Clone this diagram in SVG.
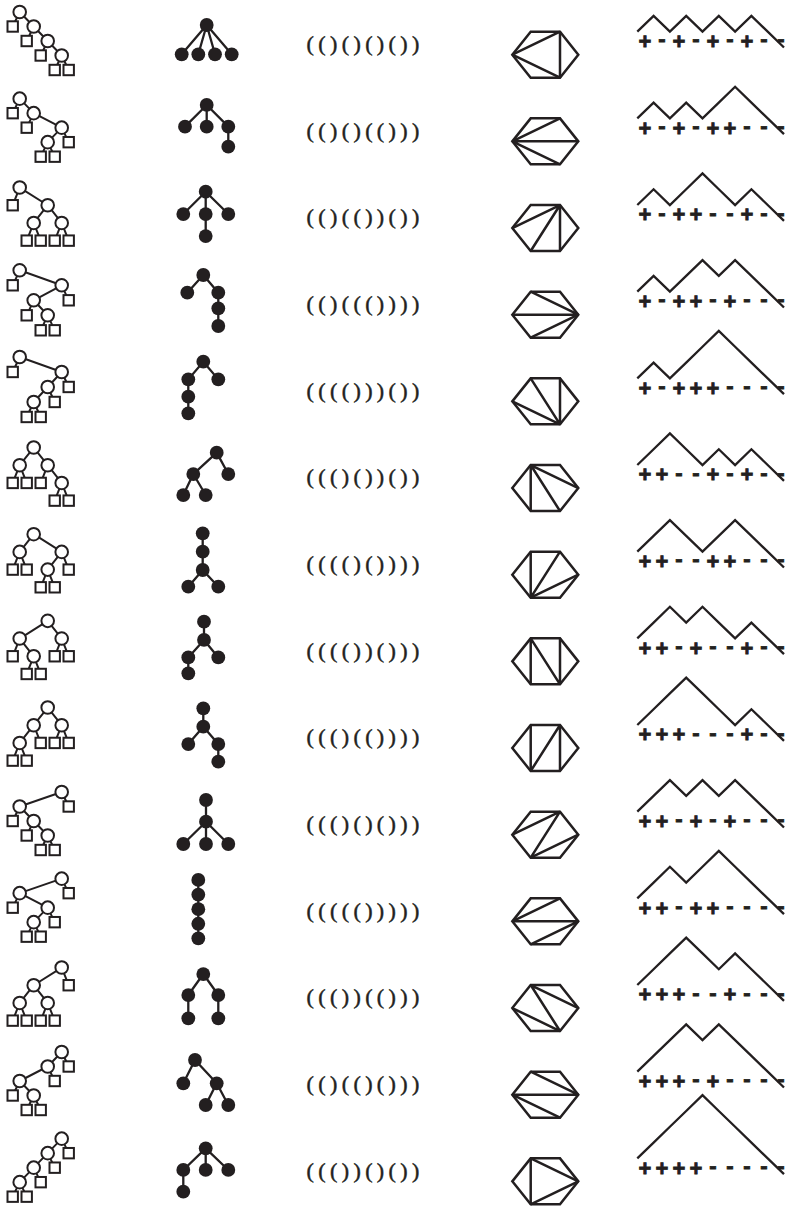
<svg xmlns="http://www.w3.org/2000/svg" xmlns:xlink="http://www.w3.org/1999/xlink" width="786" height="1209" viewBox="0 0 786 1209">
<style>
.e{fill:none;stroke:#231f20;stroke-width:2}
.pe{fill:none;stroke:#231f20;stroke-width:2.3}
.hx{fill:none;stroke:#231f20;stroke-width:2.5;stroke-linejoin:miter}
.dk{fill:none;stroke:#231f20;stroke-width:2.3}
.par{font-family:"Liberation Serif",serif;font-size:22px;letter-spacing:4.4px;fill:#231f20;stroke:#231f20;stroke-width:0.5}
.pl{font-family:"Liberation Sans",Arial,sans-serif;font-weight:bold;font-size:22px;fill:#231f20;stroke:#231f20;stroke-width:0.8;text-anchor:middle}
</style>
<defs>
<circle id="oc" r="6.3" fill="#fff" stroke="#231f20" stroke-width="2"/>
<rect id="sq" x="-5.2" y="-5.2" width="10.4" height="10.4" fill="#fff" stroke="#231f20" stroke-width="2"/>
<circle id="dot" r="6.9" fill="#231f20"/>
<polygon id="hex" points="512.3,54.7 530.7,31.7 560,31.7 578.3,54.7 560,77.7 530.7,77.7" class="hx"/>
</defs>
<rect width="786" height="1209" fill="#fff"/>

<!-- Binary trees -->
<g id="binary-trees">
<g id="bt1" transform="translate(0,0)">
<path class="e" d="M19.7 12L12.7 26.5M19.7 12L33.7 26.5M33.7 26.5L26.7 41M33.7 26.5L47.7 41M47.7 41L40.7 55.5M47.7 41L61.7 55.5M61.7 55.5L54.7 70M61.7 55.5L68.7 70"/>
<use href="#oc" x="19.7" y="12"/><use href="#oc" x="33.7" y="26.5"/><use href="#oc" x="47.7" y="41"/><use href="#oc" x="61.7" y="55.5"/>
<use href="#sq" x="12.7" y="26.5"/><use href="#sq" x="26.7" y="41"/><use href="#sq" x="40.7" y="55.5"/><use href="#sq" x="54.7" y="70"/><use href="#sq" x="68.7" y="70"/>
</g>
<g id="bt2" transform="translate(0,86.67)">
<path class="e" d="M19.7 12L12.7 26.5M19.7 12L33.7 26.5M33.7 26.5L26.7 41M33.7 26.5L61.7 41M61.7 41L47.7 55.5M61.7 41L68.7 55.5M47.7 55.5L40.7 70M47.7 55.5L54.7 70"/>
<use href="#oc" x="19.7" y="12"/><use href="#oc" x="33.7" y="26.5"/><use href="#oc" x="61.7" y="41"/><use href="#oc" x="47.7" y="55.5"/>
<use href="#sq" x="12.7" y="26.5"/><use href="#sq" x="26.7" y="41"/><use href="#sq" x="40.7" y="70"/><use href="#sq" x="54.7" y="70"/><use href="#sq" x="68.7" y="55.5"/>
</g>
<g id="bt3" transform="translate(0,173.33)">
<path class="e" d="M19.7 14.2L12.7 31.9M19.7 14.2L47.7 31.9M47.7 31.9L33.7 49.6M47.7 31.9L61.7 49.6M33.7 49.6L26.7 67.3M33.7 49.6L40.7 67.3M61.7 49.6L54.7 67.3M61.7 49.6L68.7 67.3"/>
<use href="#oc" x="19.7" y="14.2"/><use href="#oc" x="47.7" y="31.9"/><use href="#oc" x="33.7" y="49.6"/><use href="#oc" x="61.7" y="49.6"/>
<use href="#sq" x="12.7" y="31.9"/><use href="#sq" x="26.7" y="67.3"/><use href="#sq" x="40.7" y="67.3"/><use href="#sq" x="54.7" y="67.3"/><use href="#sq" x="68.7" y="67.3"/>
</g>
<g id="bt4" transform="translate(0,260)">
<path class="e" d="M19.7 10.3L12.7 25.3M19.7 10.3L61.7 25.3M61.7 25.3L33.7 40.3M61.7 25.3L68.7 40.3M33.7 40.3L26.7 55.3M33.7 40.3L47.7 55.3M47.7 55.3L40.7 70.3M47.7 55.3L54.7 70.3"/>
<use href="#oc" x="19.7" y="10.3"/><use href="#oc" x="61.7" y="25.3"/><use href="#oc" x="33.7" y="40.3"/><use href="#oc" x="47.7" y="55.3"/>
<use href="#sq" x="12.7" y="25.3"/><use href="#sq" x="68.7" y="40.3"/><use href="#sq" x="26.7" y="55.3"/><use href="#sq" x="40.7" y="70.3"/><use href="#sq" x="54.7" y="70.3"/>
</g>
<g id="bt5" transform="translate(0,346.67)">
<path class="e" d="M19.7 10.3L12.7 25.3M19.7 10.3L61.7 25.3M61.7 25.3L47.7 40.3M61.7 25.3L68.7 40.3M47.7 40.3L33.7 55.3M47.7 40.3L54.7 55.3M33.7 55.3L26.7 70.3M33.7 55.3L40.7 70.3"/>
<use href="#oc" x="19.7" y="10.3"/><use href="#oc" x="61.7" y="25.3"/><use href="#oc" x="47.7" y="40.3"/><use href="#oc" x="33.7" y="55.3"/>
<use href="#sq" x="12.7" y="25.3"/><use href="#sq" x="68.7" y="40.3"/><use href="#sq" x="54.7" y="55.3"/><use href="#sq" x="26.7" y="70.3"/><use href="#sq" x="40.7" y="70.3"/>
</g>
<g id="bt6" transform="translate(0,433.33)">
<path class="e" d="M33.7 14.2L19.7 31.9M33.7 14.2L47.7 31.9M19.7 31.9L12.7 49.6M19.7 31.9L26.7 49.6M47.7 31.9L40.7 49.6M47.7 31.9L61.7 49.6M61.7 49.6L54.7 67.3M61.7 49.6L68.7 67.3"/>
<use href="#oc" x="33.7" y="14.2"/><use href="#oc" x="19.7" y="31.9"/><use href="#oc" x="47.7" y="31.9"/><use href="#oc" x="61.7" y="49.6"/>
<use href="#sq" x="12.7" y="49.6"/><use href="#sq" x="26.7" y="49.6"/><use href="#sq" x="40.7" y="49.6"/><use href="#sq" x="54.7" y="67.3"/><use href="#sq" x="68.7" y="67.3"/>
</g>
<g id="bt7" transform="translate(0,520)">
<path class="e" d="M33.7 14.2L19.7 31.9M33.7 14.2L61.7 31.9M19.7 31.9L12.7 49.6M19.7 31.9L26.7 49.6M61.7 31.9L47.7 49.6M61.7 31.9L68.7 49.6M47.7 49.6L40.7 67.3M47.7 49.6L54.7 67.3"/>
<use href="#oc" x="33.7" y="14.2"/><use href="#oc" x="19.7" y="31.9"/><use href="#oc" x="61.7" y="31.9"/><use href="#oc" x="47.7" y="49.6"/>
<use href="#sq" x="12.7" y="49.6"/><use href="#sq" x="26.7" y="49.6"/><use href="#sq" x="68.7" y="49.6"/><use href="#sq" x="40.7" y="67.3"/><use href="#sq" x="54.7" y="67.3"/>
</g>
<g id="bt8" transform="translate(0,606.67)">
<path class="e" d="M47.7 14.2L19.7 31.9M47.7 14.2L61.7 31.9M19.7 31.9L12.7 49.6M19.7 31.9L33.7 49.6M33.7 49.6L26.7 67.3M33.7 49.6L40.7 67.3M61.7 31.9L54.7 49.6M61.7 31.9L68.7 49.6"/>
<use href="#oc" x="47.7" y="14.2"/><use href="#oc" x="19.7" y="31.9"/><use href="#oc" x="61.7" y="31.9"/><use href="#oc" x="33.7" y="49.6"/>
<use href="#sq" x="12.7" y="49.6"/><use href="#sq" x="54.7" y="49.6"/><use href="#sq" x="68.7" y="49.6"/><use href="#sq" x="26.7" y="67.3"/><use href="#sq" x="40.7" y="67.3"/>
</g>
<g id="bt9" transform="translate(0,693.33)">
<path class="e" d="M47.7 14.2L33.7 31.9M47.7 14.2L61.7 31.9M33.7 31.9L19.7 49.6M33.7 31.9L40.7 49.6M19.7 49.6L12.7 67.3M19.7 49.6L26.7 67.3M61.7 31.9L54.7 49.6M61.7 31.9L68.7 49.6"/>
<use href="#oc" x="47.7" y="14.2"/><use href="#oc" x="33.7" y="31.9"/><use href="#oc" x="61.7" y="31.9"/><use href="#oc" x="19.7" y="49.6"/>
<use href="#sq" x="40.7" y="49.6"/><use href="#sq" x="54.7" y="49.6"/><use href="#sq" x="68.7" y="49.6"/><use href="#sq" x="12.7" y="67.3"/><use href="#sq" x="26.7" y="67.3"/>
</g>
<g id="bt10" transform="translate(0,780)">
<path class="e" d="M61.7 12L68.7 26.5M61.7 12L19.7 26.5M19.7 26.5L12.7 41M19.7 26.5L33.7 41M33.7 41L26.7 55.5M33.7 41L47.7 55.5M47.7 55.5L40.7 70M47.7 55.5L54.7 70"/>
<use href="#oc" x="61.7" y="12"/><use href="#oc" x="19.7" y="26.5"/><use href="#oc" x="33.7" y="41"/><use href="#oc" x="47.7" y="55.5"/>
<use href="#sq" x="68.7" y="26.5"/><use href="#sq" x="12.7" y="41"/><use href="#sq" x="26.7" y="55.5"/><use href="#sq" x="40.7" y="70"/><use href="#sq" x="54.7" y="70"/>
</g>
<g id="bt11" transform="translate(0,866.67)">
<path class="e" d="M61.7 12L68.7 26.5M61.7 12L19.7 26.5M19.7 26.5L12.7 41M19.7 26.5L47.7 41M47.7 41L33.7 55.5M47.7 41L54.7 55.5M33.7 55.5L26.7 70M33.7 55.5L40.7 70"/>
<use href="#oc" x="61.7" y="12"/><use href="#oc" x="19.7" y="26.5"/><use href="#oc" x="47.7" y="41"/><use href="#oc" x="33.7" y="55.5"/>
<use href="#sq" x="68.7" y="26.5"/><use href="#sq" x="12.7" y="41"/><use href="#sq" x="54.7" y="55.5"/><use href="#sq" x="26.7" y="70"/><use href="#sq" x="40.7" y="70"/>
</g>
<g id="bt12" transform="translate(0,953.33)">
<path class="e" d="M61.7 14.2L68.7 31.9M61.7 14.2L33.7 31.9M33.7 31.9L19.7 49.6M33.7 31.9L47.7 49.6M19.7 49.6L12.7 67.3M19.7 49.6L26.7 67.3M47.7 49.6L40.7 67.3M47.7 49.6L54.7 67.3"/>
<use href="#oc" x="61.7" y="14.2"/><use href="#oc" x="33.7" y="31.9"/><use href="#oc" x="19.7" y="49.6"/><use href="#oc" x="47.7" y="49.6"/>
<use href="#sq" x="68.7" y="31.9"/><use href="#sq" x="12.7" y="67.3"/><use href="#sq" x="26.7" y="67.3"/><use href="#sq" x="40.7" y="67.3"/><use href="#sq" x="54.7" y="67.3"/>
</g>
<g id="bt13" transform="translate(0,1040)">
<path class="e" d="M61.7 12L68.7 26.5M61.7 12L47.7 26.5M47.7 26.5L19.7 41M47.7 26.5L54.7 41M19.7 41L12.7 55.5M19.7 41L33.7 55.5M33.7 55.5L26.7 70M33.7 55.5L40.7 70"/>
<use href="#oc" x="61.7" y="12"/><use href="#oc" x="47.7" y="26.5"/><use href="#oc" x="19.7" y="41"/><use href="#oc" x="33.7" y="55.5"/>
<use href="#sq" x="68.7" y="26.5"/><use href="#sq" x="54.7" y="41"/><use href="#sq" x="12.7" y="55.5"/><use href="#sq" x="26.7" y="70"/><use href="#sq" x="40.7" y="70"/>
</g>
<g id="bt14" transform="translate(0,1126.67)">
<path class="e" d="M61.7 12L68.7 26.5M61.7 12L47.7 26.5M47.7 26.5L33.7 41M47.7 26.5L54.7 41M33.7 41L19.7 55.5M33.7 41L40.7 55.5M19.7 55.5L12.7 70M19.7 55.5L26.7 70"/>
<use href="#oc" x="61.7" y="12"/><use href="#oc" x="47.7" y="26.5"/><use href="#oc" x="33.7" y="41"/><use href="#oc" x="19.7" y="55.5"/>
<use href="#sq" x="68.7" y="26.5"/><use href="#sq" x="54.7" y="41"/><use href="#sq" x="40.7" y="55.5"/><use href="#sq" x="12.7" y="70"/><use href="#sq" x="26.7" y="70"/>
</g>
</g>

<!-- Plane trees -->
<g id="plane-trees">
<g id="pt1" transform="translate(0,0)">
<path class="pe" d="M206.7 25L181.7 54.3M206.7 25L198.3 54.3M206.7 25L215 54.3M206.7 25L231.7 54.3"/>
<use href="#dot" x="206.7" y="25"/><use href="#dot" x="181.7" y="54.3"/><use href="#dot" x="198.3" y="54.3"/><use href="#dot" x="215" y="54.3"/><use href="#dot" x="231.7" y="54.3"/>
</g>
<g id="pt2" transform="translate(0,86.67)">
<path class="pe" d="M206.7 18.3L185 40M206.7 18.3L206.7 40M206.7 18.3L228.3 40M228.3 40L228.3 60"/>
<use href="#dot" x="206.7" y="18.3"/><use href="#dot" x="185" y="40"/><use href="#dot" x="206.7" y="40"/><use href="#dot" x="228.3" y="40"/><use href="#dot" x="228.3" y="60"/>
</g>
<g id="pt3" transform="translate(0,173.33)">
<path class="pe" d="M205.7 18.4L183.3 40.7M205.7 18.4L205.7 40.7M205.7 18.4L228.3 40.7M205.7 40.7L205.7 62.7"/>
<use href="#dot" x="205.7" y="18.4"/><use href="#dot" x="183.3" y="40.7"/><use href="#dot" x="205.7" y="40.7"/><use href="#dot" x="228.3" y="40.7"/><use href="#dot" x="205.7" y="62.7"/>
</g>
<g id="pt4" transform="translate(0,260)">
<path class="pe" d="M203.3 15L187.3 32.7M203.3 15L218.3 32.7M218.3 32.7L218.3 66"/>
<use href="#dot" x="203.3" y="15"/><use href="#dot" x="187.3" y="32.7"/><use href="#dot" x="218.3" y="32.7"/><use href="#dot" x="218.3" y="48.3"/><use href="#dot" x="218.3" y="66"/>
</g>
<g id="pt5" transform="translate(0,346.67)">
<path class="pe" d="M203.3 15L188.3 32.7M203.3 15L218.3 32.7M188.3 32.7L188.3 66.7"/>
<use href="#dot" x="203.3" y="15"/><use href="#dot" x="188.3" y="32.7"/><use href="#dot" x="218.3" y="32.7"/><use href="#dot" x="188.3" y="50"/><use href="#dot" x="188.3" y="66.7"/>
</g>
<g id="pt6" transform="translate(0,433.33)">
<path class="pe" d="M216.7 19.3L193.3 40.7M216.7 19.3L228.3 40.7M193.3 40.7L183.3 61.7M193.3 40.7L205.7 61.7"/>
<use href="#dot" x="216.7" y="19.3"/><use href="#dot" x="193.3" y="40.7"/><use href="#dot" x="228.3" y="40.7"/><use href="#dot" x="183.3" y="61.7"/><use href="#dot" x="205.7" y="61.7"/>
</g>
<g id="pt7" transform="translate(0,520)">
<path class="pe" d="M202.7 13.3L202.7 50M202.7 50L188.3 66.7M202.7 50L218.3 66.7"/>
<use href="#dot" x="202.7" y="13.3"/><use href="#dot" x="202.7" y="31.7"/><use href="#dot" x="202.7" y="50"/><use href="#dot" x="188.3" y="66.7"/><use href="#dot" x="218.3" y="66.7"/>
</g>
<g id="pt8" transform="translate(0,606.67)">
<path class="pe" d="M204 15L204 33.3M204 33.3L188.3 50.8M204 33.3L218.3 50.8M188.3 50.8L188.3 66.7"/>
<use href="#dot" x="204" y="15"/><use href="#dot" x="204" y="33.3"/><use href="#dot" x="188.3" y="50.8"/><use href="#dot" x="218.3" y="50.8"/><use href="#dot" x="188.3" y="66.7"/>
</g>
<g id="pt9" transform="translate(0,693.33)">
<path class="pe" d="M203.3 15L203.3 33.3M203.3 33.3L188.3 50.7M203.3 33.3L218.3 50.7M218.3 50.7L218.3 68.3"/>
<use href="#dot" x="203.3" y="15"/><use href="#dot" x="203.3" y="33.3"/><use href="#dot" x="188.3" y="50.7"/><use href="#dot" x="218.3" y="50.7"/><use href="#dot" x="218.3" y="68.3"/>
</g>
<g id="pt10" transform="translate(0,780)">
<path class="pe" d="M206 20L206 41.7M206 41.7L183.3 64M206 41.7L206 64M206 41.7L228.3 64"/>
<use href="#dot" x="206" y="20"/><use href="#dot" x="206" y="41.7"/><use href="#dot" x="183.3" y="64"/><use href="#dot" x="206" y="64"/><use href="#dot" x="228.3" y="64"/>
</g>
<g id="pt11" transform="translate(0,866.67)">
<path class="pe" d="M198.3 13.3L198.3 71.7"/>
<use href="#dot" x="198.3" y="13.3"/><use href="#dot" x="198.3" y="27.9"/><use href="#dot" x="198.3" y="42.5"/><use href="#dot" x="198.3" y="57.1"/><use href="#dot" x="198.3" y="71.7"/>
</g>
<g id="pt12" transform="translate(0,953.33)">
<path class="pe" d="M203.3 20.7L188.3 41.7M203.3 20.7L218.3 41.7M188.3 41.7L188.3 65M218.3 41.7L218.3 65"/>
<use href="#dot" x="203.3" y="20.7"/><use href="#dot" x="188.3" y="41.7"/><use href="#dot" x="218.3" y="41.7"/><use href="#dot" x="188.3" y="65"/><use href="#dot" x="218.3" y="65"/>
</g>
<g id="pt13" transform="translate(0,1040)">
<path class="pe" d="M195 20L183.3 43.3M195 20L216.7 43.3M216.7 43.3L205.7 65M216.7 43.3L228.3 65"/>
<use href="#dot" x="195" y="20"/><use href="#dot" x="183.3" y="43.3"/><use href="#dot" x="216.7" y="43.3"/><use href="#dot" x="205.7" y="65"/><use href="#dot" x="228.3" y="65"/>
</g>
<g id="pt14" transform="translate(0,1126.67)">
<path class="pe" d="M205.7 21.7L183.3 43.3M205.7 21.7L205.7 43.3M205.7 21.7L228.3 43.3M183.3 43.3L183.3 65"/>
<use href="#dot" x="205.7" y="21.7"/><use href="#dot" x="183.3" y="43.3"/><use href="#dot" x="205.7" y="43.3"/><use href="#dot" x="228.3" y="43.3"/><use href="#dot" x="183.3" y="65"/>
</g>
</g>

<!-- Parenthesizations -->
<g id="parentheses">
<text id="par1" class="par" x="306.5" y="51">(()()()())</text>
<text id="par2" class="par" x="306.5" y="137.7">(()()(()))</text>
<text id="par3" class="par" x="306.5" y="224.3">(()(())())</text>
<text id="par4" class="par" x="306.5" y="311">(()((())))</text>
<text id="par5" class="par" x="306.5" y="397.7">(((()))())</text>
<text id="par6" class="par" x="306.5" y="484.3">((()())())</text>
<text id="par7" class="par" x="306.5" y="571">(((()())))</text>
<text id="par8" class="par" x="306.5" y="657.7">(((())()))</text>
<text id="par9" class="par" x="306.5" y="744.3">((()(())))</text>
<text id="par10" class="par" x="306.5" y="831">((()()()))</text>
<text id="par11" class="par" x="306.5" y="917.7">((((()))))</text>
<text id="par12" class="par" x="306.5" y="1004.3">((())(()))</text>
<text id="par13" class="par" x="306.5" y="1091">(()(()()))</text>
<text id="par14" class="par" x="306.5" y="1177.7">((())()())</text>
</g>

<!-- Triangulated hexagons -->
<g id="triangulations">
<g id="tri1" transform="translate(0,0)"><use href="#hex"/><path class="hx" d="M512.3 54.7L560 31.7M512.3 54.7L560 77.7M560 31.7L560 77.7"/></g>
<g id="tri2" transform="translate(0,86.67)"><use href="#hex"/><path class="hx" d="M512.3 54.7L560 31.7M512.3 54.7L578.3 54.7M512.3 54.7L560 77.7"/></g>
<g id="tri3" transform="translate(0,173.33)"><use href="#hex"/><path class="hx" d="M560 31.7L512.3 54.7M560 31.7L530.7 77.7M560 31.7L560 77.7"/></g>
<g id="tri4" transform="translate(0,260)"><use href="#hex"/><path class="hx" d="M578.3 54.7L530.7 31.7M578.3 54.7L512.3 54.7M578.3 54.7L530.7 77.7"/></g>
<g id="tri5" transform="translate(0,346.67)"><use href="#hex"/><path class="hx" d="M560 77.7L512.3 54.7M560 77.7L530.7 31.7M560 77.7L560 31.7"/></g>
<g id="tri6" transform="translate(0,433.33)"><use href="#hex"/><path class="hx" d="M530.7 31.7L578.3 54.7M530.7 31.7L560 77.7M530.7 31.7L530.7 77.7"/></g>
<g id="tri7" transform="translate(0,520)"><use href="#hex"/><path class="hx" d="M530.7 77.7L530.7 31.7M530.7 77.7L560 31.7M530.7 77.7L578.3 54.7"/></g>
<g id="tri8" transform="translate(0,606.67)"><use href="#hex"/><path class="hx" d="M530.7 31.7L530.7 77.7M530.7 31.7L560 77.7M560 31.7L560 77.7"/></g>
<g id="tri9" transform="translate(0,693.33)"><use href="#hex"/><path class="hx" d="M530.7 31.7L530.7 77.7M530.7 77.7L560 31.7M560 31.7L560 77.7"/></g>
<g id="tri10" transform="translate(0,780)"><use href="#hex"/><path class="hx" d="M512.3 54.7L560 31.7M530.7 77.7L560 31.7M530.7 77.7L578.3 54.7"/></g>
<g id="tri11" transform="translate(0,866.67)"><use href="#hex"/><path class="hx" d="M512.3 54.7L560 31.7M512.3 54.7L578.3 54.7M578.3 54.7L530.7 77.7"/></g>
<g id="tri12" transform="translate(0,953.33)"><use href="#hex"/><path class="hx" d="M530.7 31.7L578.3 54.7M530.7 31.7L560 77.7M512.3 54.7L560 77.7"/></g>
<g id="tri13" transform="translate(0,1040)"><use href="#hex"/><path class="hx" d="M530.7 31.7L578.3 54.7M512.3 54.7L578.3 54.7M512.3 54.7L560 77.7"/></g>
<g id="tri14" transform="translate(0,1126.67)"><use href="#hex"/><path class="hx" d="M530.7 31.7L530.7 77.7M530.7 31.7L578.3 54.7M578.3 54.7L530.7 77.7"/></g>
</g>

<!-- Dyck paths with +/- words -->
<g id="dyck-paths">
<g id="dyck1" transform="translate(0,0)">
<path class="dk" d="M637.3 31.7l16.3 -15.8l16.3 15.8l16.3 -15.8l16.3 15.8l16.3 -15.8l16.3 15.8l16.3 -15.8l16.3 15.8l16.3 15.8"/>
<text class="pl" x="645 662 679 696 713 730 747 764 781" y="49 46.3 49 46.3 49 46.3 49 46.3 46.3">+-+-+-+--</text>
</g>
<g id="dyck2" transform="translate(0,86.67)">
<path class="dk" d="M637.3 31.7l16.3 -15.8l16.3 15.8l16.3 -15.8l16.3 15.8l16.3 -15.8l16.3 -15.8l16.3 15.8l16.3 15.8l16.3 15.8"/>
<text class="pl" x="645 662 679 696 713 730 747 764 781" y="49 46.3 49 46.3 49 49 46.3 46.3 46.3">+-+-++---</text>
</g>
<g id="dyck3" transform="translate(0,173.33)">
<path class="dk" d="M637.3 31.7l16.3 -15.8l16.3 15.8l16.3 -15.8l16.3 -15.8l16.3 15.8l16.3 15.8l16.3 -15.8l16.3 15.8l16.3 15.8"/>
<text class="pl" x="645 662 679 696 713 730 747 764 781" y="49 46.3 49 49 46.3 46.3 49 46.3 46.3">+-++--+--</text>
</g>
<g id="dyck4" transform="translate(0,260)">
<path class="dk" d="M637.3 31.7l16.3 -15.8l16.3 15.8l16.3 -15.8l16.3 -15.8l16.3 15.8l16.3 -15.8l16.3 15.8l16.3 15.8l16.3 15.8"/>
<text class="pl" x="645 662 679 696 713 730 747 764 781" y="49 46.3 49 49 46.3 49 46.3 46.3 46.3">+-++-+---</text>
</g>
<g id="dyck5" transform="translate(0,346.67)">
<path class="dk" d="M637.3 31.7l16.3 -15.8l16.3 15.8l16.3 -15.8l16.3 -15.8l16.3 -15.8l16.3 15.8l16.3 15.8l16.3 15.8l16.3 15.8"/>
<text class="pl" x="645 662 679 696 713 730 747 764 781" y="49 46.3 49 49 49 46.3 46.3 46.3 46.3">+-+++----</text>
</g>
<g id="dyck6" transform="translate(0,433.33)">
<path class="dk" d="M637.3 31.7l16.3 -15.8l16.3 -15.8l16.3 15.8l16.3 15.8l16.3 -15.8l16.3 15.8l16.3 -15.8l16.3 15.8l16.3 15.8"/>
<text class="pl" x="645 662 679 696 713 730 747 764 781" y="49 49 46.3 46.3 49 46.3 49 46.3 46.3">++--+-+--</text>
</g>
<g id="dyck7" transform="translate(0,520)">
<path class="dk" d="M637.3 31.7l16.3 -15.8l16.3 -15.8l16.3 15.8l16.3 15.8l16.3 -15.8l16.3 -15.8l16.3 15.8l16.3 15.8l16.3 15.8"/>
<text class="pl" x="645 662 679 696 713 730 747 764 781" y="49 49 46.3 46.3 49 49 46.3 46.3 46.3">++--++---</text>
</g>
<g id="dyck8" transform="translate(0,606.67)">
<path class="dk" d="M637.3 31.7l16.3 -15.8l16.3 -15.8l16.3 15.8l16.3 -15.8l16.3 15.8l16.3 15.8l16.3 -15.8l16.3 15.8l16.3 15.8"/>
<text class="pl" x="645 662 679 696 713 730 747 764 781" y="49 49 46.3 49 46.3 46.3 49 46.3 46.3">++-+--+--</text>
</g>
<g id="dyck9" transform="translate(0,693.33)">
<path class="dk" d="M637.3 31.7l16.3 -15.8l16.3 -15.8l16.3 -15.8l16.3 15.8l16.3 15.8l16.3 15.8l16.3 -15.8l16.3 15.8l16.3 15.8"/>
<text class="pl" x="645 662 679 696 713 730 747 764 781" y="49 49 49 46.3 46.3 46.3 49 46.3 46.3">+++---+--</text>
</g>
<g id="dyck10" transform="translate(0,780)">
<path class="dk" d="M637.3 31.7l16.3 -15.8l16.3 -15.8l16.3 15.8l16.3 -15.8l16.3 15.8l16.3 -15.8l16.3 15.8l16.3 15.8l16.3 15.8"/>
<text class="pl" x="645 662 679 696 713 730 747 764 781" y="49 49 46.3 49 46.3 49 46.3 46.3 46.3">++-+-+---</text>
</g>
<g id="dyck11" transform="translate(0,866.67)">
<path class="dk" d="M637.3 31.7l16.3 -15.8l16.3 -15.8l16.3 15.8l16.3 -15.8l16.3 -15.8l16.3 15.8l16.3 15.8l16.3 15.8l16.3 15.8"/>
<text class="pl" x="645 662 679 696 713 730 747 764 781" y="49 49 46.3 49 49 46.3 46.3 46.3 46.3">++-++----</text>
</g>
<g id="dyck12" transform="translate(0,953.33)">
<path class="dk" d="M637.3 31.7l16.3 -15.8l16.3 -15.8l16.3 -15.8l16.3 15.8l16.3 15.8l16.3 -15.8l16.3 15.8l16.3 15.8l16.3 15.8"/>
<text class="pl" x="645 662 679 696 713 730 747 764 781" y="49 49 49 46.3 46.3 49 46.3 46.3 46.3">+++--+---</text>
</g>
<g id="dyck13" transform="translate(0,1040)">
<path class="dk" d="M637.3 31.7l16.3 -15.8l16.3 -15.8l16.3 -15.8l16.3 15.8l16.3 -15.8l16.3 15.8l16.3 15.8l16.3 15.8l16.3 15.8"/>
<text class="pl" x="645 662 679 696 713 730 747 764 781" y="49 49 49 46.3 49 46.3 46.3 46.3 46.3">+++-+----</text>
</g>
<g id="dyck14" transform="translate(0,1126.67)">
<path class="dk" d="M637.3 31.7l16.3 -15.8l16.3 -15.8l16.3 -15.8l16.3 -15.8l16.3 15.8l16.3 15.8l16.3 15.8l16.3 15.8l16.3 15.8"/>
<text class="pl" x="645 662 679 696 713 730 747 764 781" y="49 49 49 49 46.3 46.3 46.3 46.3 46.3">++++-----</text>
</g>
</g>
</svg>
